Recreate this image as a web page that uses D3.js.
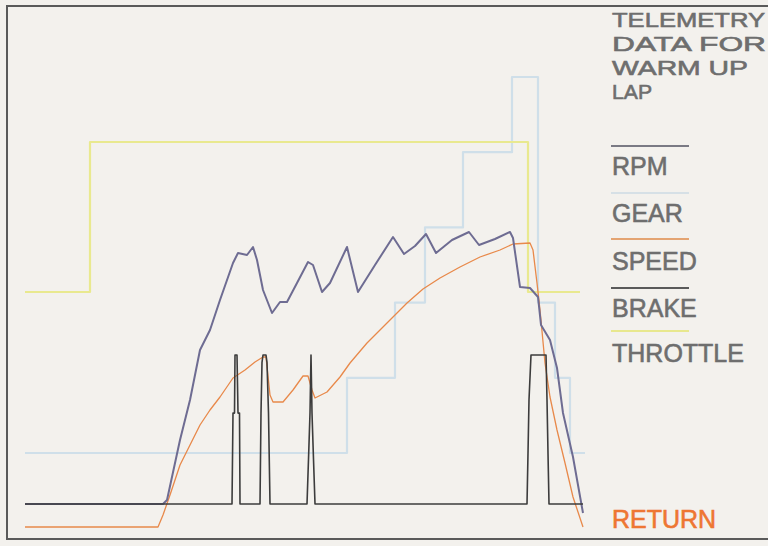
<!DOCTYPE html>
<html>
<head>
<meta charset="utf-8">
<script src="https://cdn.jsdelivr.net/npm/d3@7"></script>
<style>
  html, body { margin: 0; padding: 0; background: #f3f1ed; }
</style>
</head>
<body>
<div id="chart"></div>
<script>
// lap time in seconds along the x axis
var lapSpan = [0, 56];

// rpm trace [t, rpm]
var rpmData = [
  [0, 640], [13.8, 640], [14.2, 800], [15.5, 3200], [16.5, 4800], [17.5, 6800],
  [18.5, 7600], [19.5, 8800], [20.8, 10280], [21.3, 10680], [22.2, 10600],
  [22.8, 10920], [23.2, 10400], [23.8, 9200], [24.7, 8280], [25.5, 8720],
  [26.2, 8720], [27.2, 9480], [28.3, 10320], [28.8, 10200], [29.7, 9120],
  [30.5, 9480], [32.2, 10920], [33.3, 9120], [35.0, 10200], [36.8, 11320],
  [37.9, 10640], [39.0, 10960], [40.1, 11440], [41.1, 10680], [42.7, 11200],
  [44.4, 11520], [45.4, 11000], [47.0, 11240], [48.5, 11520], [48.8, 11280],
  [49.5, 9320], [50.5, 9280], [51.3, 8920], [51.6, 7800], [52.5, 7200],
  [53.2, 6080], [53.8, 4280], [54.8, 2520], [55.8, 280]
];

// gear changes [t, gear]
var gearData = [
  [0, 1], [32.2, 2], [37.0, 3], [40.0, 4], [43.8, 5], [48.7, 6],
  [51.3, 3], [53.0, 2], [54.5, 1], [56, 1]
];

// speed trace [t, km/h]
var speedData = [
  [0, 0], [13.3, 0], [13.8, 12], [14.5, 32], [15.5, 62], [16.5, 82], [17.5, 102],
  [18.5, 117], [19.5, 130], [20.8, 149], [22.0, 157], [23.0, 165], [23.8, 170],
  [24.1, 170], [24.5, 132], [24.8, 125], [25.8, 125], [26.8, 137], [27.8, 151],
  [28.3, 151], [28.7, 137], [29.0, 129], [30.2, 135], [31.5, 150], [32.5, 164],
  [34.2, 184], [36.2, 204], [38.2, 224], [39.8, 238], [41.5, 249], [43.5, 260],
  [45.5, 270], [47.5, 277], [48.8, 283], [50.5, 284], [50.8, 277], [51.2, 244],
  [51.5, 217], [52.0, 164], [52.5, 130], [53.2, 97], [54.0, 64], [54.8, 30],
  [55.8, 0]
];

// brake pressure [t, %]
var brakeData = [
  [0, 0], [20.7, 0], [20.8, 61], [20.95, 61], [21.0, 100], [21.2, 100],
  [21.3, 61], [21.45, 61], [21.5, 0],
  [23.5, 0], [23.6, 61], [23.7, 95], [23.8, 100], [24.1, 100], [24.2, 95],
  [24.35, 61], [24.5, 0],
  [28.2, 0], [28.35, 30], [28.5, 61], [28.6, 100], [28.7, 61], [28.85, 30],
  [29.0, 0],
  [50.2, 0], [50.3, 34], [50.4, 70], [50.6, 100], [52.1, 100], [52.2, 70],
  [52.3, 34], [52.4, 0], [55.8, 0]
];

// throttle [t, %]
var throttleData = [
  [0, 0], [6.5, 100], [50.3, 0], [55.5, 0]
];

var titleLines = ['TELEMETRY', 'DATA FOR', 'WARM UP', 'LAP'];
var legendNames = ['RPM', 'GEAR', 'SPEED', 'BRAKE', 'THROTTLE'];
var returnLabel = 'RETURN';

var width = 768, height = 546;

var svg = d3.select('#chart').append('svg')
    .attr('width', width)
    .attr('height', height)
    .style('display', 'block')
    .style('background', '#f3f1ed');

// frame round the whole screen
svg.append('rect')
    .attr('x', 7)
    .attr('y', 6)
    .attr('width', 762)
    .attr('height', 533)
    .attr('fill', 'none')
    .attr('stroke', '#5a5a5a')
    .attr('stroke-width', 2);

var x = d3.scaleLinear().domain(lapSpan).range([25, 585]);

var yRpm = d3.scaleLinear().domain([0, 12000]).range([520, 220]);
var yGear = d3.scaleLinear().domain([1, 6]).range([453, 77]);
var ySpeed = d3.scaleLinear().domain([0, 300]).range([527, 227]);
var yBrake = d3.scaleLinear().domain([0, 100]).range([504, 355]);
var yThrottle = d3.scaleLinear().domain([0, 100]).range([292, 142]);

var series = [
  {data: gearData, y: yGear, color: '#cfdfe9', w: 2.2, curve: d3.curveStepAfter},
  {data: throttleData, y: yThrottle, color: '#e9e98f', w: 2.2, curve: d3.curveStepAfter},
  {data: speedData, y: ySpeed, color: '#e8894a', w: 1.3, curve: d3.curveLinear},
  {data: rpmData, y: yRpm, color: '#6e6c92', w: 2, curve: d3.curveLinear},
  {data: brakeData, y: yBrake, color: '#3c3c3c', w: 1.6, curve: d3.curveLinear}
];

var plot = svg.append('g').attr('class', 'plot');

series.forEach(function(s) {
  var line = d3.line()
      .curve(s.curve)
      .x(function(d) { return x(d[0]); })
      .y(function(d) { return s.y(d[1]); });
  plot.append('path')
      .datum(s.data)
      .attr('fill', 'none')
      .attr('stroke', s.color)
      .attr('stroke-width', s.w)
      .attr('stroke-linejoin', 'round')
      .attr('d', line);
});

// side panel text
var panel = svg.append('g')
    .style('font-family', '"Liberation Sans", Arial, sans-serif');

// title is set tighter so the four lines fit above the legend
var titleWidths = [153, 154, 136, 40];
panel.selectAll('.title')
    .data(titleLines)
    .enter().append('text')
    .attr('class', 'title')
    .attr('x', 612)
    .attr('y', function(d, i) { return 27 + i * 24; })
    .attr('textLength', function(d, i) { return titleWidths[i]; })
    .attr('lengthAdjust', 'spacingAndGlyphs')
    .style('font-size', '21px')
    .attr('fill', '#6e6e6e')
    .attr('stroke', '#6e6e6e')
    .attr('stroke-width', 0.6)
    .text(function(d) { return d; });

var legendColors = ['#7a7a84', '#d6e0e6', '#e4a472', '#5a5a5a', '#e8e88e'];
var legendLineY = [146, 193, 239, 288, 331];
var legendTextY = [175, 222, 270, 317, 362];

var items = panel.selectAll('.legend')
    .data(legendNames)
    .enter().append('g')
    .attr('class', 'legend');

items.append('line')
    .attr('x1', 611)
    .attr('x2', 689)
    .attr('y1', function(d, i) { return legendLineY[i]; })
    .attr('y2', function(d, i) { return legendLineY[i]; })
    .attr('stroke', function(d, i) { return legendColors[i]; })
    .attr('stroke-width', 2);

items.append('text')
    .attr('x', 612)
    .attr('y', function(d, i) { return legendTextY[i]; })
    .style('font-size', '25px')
    .attr('fill', '#6e6e6e')
    .attr('stroke', '#6e6e6e')
    .attr('stroke-width', 0.6)
    .text(function(d) { return d; });

panel.append('text')
    .attr('x', 612)
    .attr('y', 528)
    .style('font-size', '25px')
    .attr('fill', '#ee7633')
    .attr('stroke', '#ee7633')
    .attr('stroke-width', 0.6)
    .text(returnLabel);
</script>
</body>
</html>
